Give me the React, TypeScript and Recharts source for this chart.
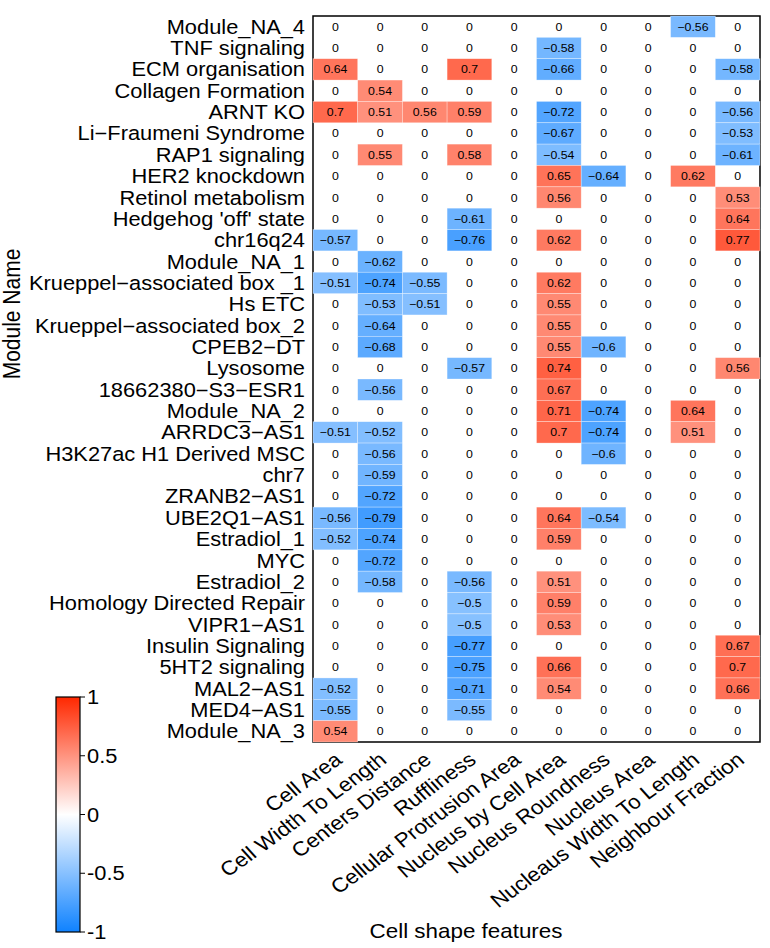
import { ScatterChart, Scatter, XAxis, YAxis, ReferenceArea, Customized } from 'recharts';

// modules (rows, top to bottom) and cell shape features (columns)
const modules = [
  'Module_NA_4',
  'TNF signaling',
  'ECM organisation',
  'Collagen Formation',
  'ARNT KO',
  'Li\u2212Fraumeni Syndrome',
  'RAP1 signaling',
  'HER2 knockdown',
  'Retinol metabolism',
  "Hedgehog 'off' state",
  'chr16q24',
  'Module_NA_1',
  'Krueppel\u2212associated box _1',
  'Hs ETC',
  'Krueppel\u2212associated box_2',
  'CPEB2\u2212DT',
  'Lysosome',
  '18662380\u2212S3\u2212ESR1',
  'Module_NA_2',
  'ARRDC3\u2212AS1',
  'H3K27ac H1 Derived MSC',
  'chr7',
  'ZRANB2\u2212AS1',
  'UBE2Q1\u2212AS1',
  'Estradiol_1',
  'MYC',
  'Estradiol_2',
  'Homology Directed Repair',
  'VIPR1\u2212AS1',
  'Insulin Signaling',
  '5HT2 signaling',
  'MAL2\u2212AS1',
  'MED4\u2212AS1',
  'Module_NA_3',
];

const features = [
  'Cell Area',
  'Cell Width To Length',
  'Centers Distance',
  'Ruffliness',
  'Cellular Protrusion Area',
  'Nucleus by Cell Area',
  'Nucleus Roundness',
  'Nucleus Area',
  'Nucleaus Width To Length',
  'Neighbour Fraction',
];

// one array per feature, values in module order
const cellArea = [0, 0, 0.64, 0, 0.7, 0, 0, 0, 0, 0, -0.57, 0, -0.51, 0, 0, 0, 0, 0, 0, -0.51, 0, 0, 0, -0.56, -0.52, 0, 0, 0, 0, 0, 0, -0.52, -0.55, 0.54];
const cellWidthToLength = [0, 0, 0, 0.54, 0.51, 0, 0.55, 0, 0, 0, 0, -0.62, -0.74, -0.53, -0.64, -0.68, 0, -0.56, 0, -0.52, -0.56, -0.59, -0.72, -0.79, -0.74, -0.72, -0.58, 0, 0, 0, 0, 0, 0, 0];
const centersDistance = [0, 0, 0, 0, 0.56, 0, 0, 0, 0, 0, 0, 0, -0.55, -0.51, 0, 0, 0, 0, 0, 0, 0, 0, 0, 0, 0, 0, 0, 0, 0, 0, 0, 0, 0, 0];
const ruffliness = [0, 0, 0.7, 0, 0.59, 0, 0.58, 0, 0, -0.61, -0.76, 0, 0, 0, 0, 0, -0.57, 0, 0, 0, 0, 0, 0, 0, 0, 0, -0.56, -0.5, -0.5, -0.77, -0.75, -0.71, -0.55, 0];
const cellularProtrusionArea = [0, 0, 0, 0, 0, 0, 0, 0, 0, 0, 0, 0, 0, 0, 0, 0, 0, 0, 0, 0, 0, 0, 0, 0, 0, 0, 0, 0, 0, 0, 0, 0, 0, 0];
const nucleusByCellArea = [0, -0.58, -0.66, 0, -0.72, -0.67, -0.54, 0.65, 0.56, 0, 0.62, 0, 0.62, 0.55, 0.55, 0.55, 0.74, 0.67, 0.71, 0.7, 0, 0, 0, 0.64, 0.59, 0, 0.51, 0.59, 0.53, 0, 0.66, 0.54, 0, 0];
const nucleusRoundness = [0, 0, 0, 0, 0, 0, 0, -0.64, 0, 0, 0, 0, 0, 0, 0, -0.6, 0, 0, -0.74, -0.74, -0.6, 0, 0, -0.54, 0, 0, 0, 0, 0, 0, 0, 0, 0, 0];
const nucleusArea = [0, 0, 0, 0, 0, 0, 0, 0, 0, 0, 0, 0, 0, 0, 0, 0, 0, 0, 0, 0, 0, 0, 0, 0, 0, 0, 0, 0, 0, 0, 0, 0, 0, 0];
const nucleausWidthToLength = [-0.56, 0, 0, 0, 0, 0, 0, 0.62, 0, 0, 0, 0, 0, 0, 0, 0, 0, 0, 0.64, 0.51, 0, 0, 0, 0, 0, 0, 0, 0, 0, 0, 0, 0, 0, 0];
const neighbourFraction = [0, 0, -0.58, 0, -0.56, -0.53, -0.61, 0, 0.53, 0.64, 0.77, 0, 0, 0, 0, 0, 0.56, 0, 0, 0, 0, 0, 0, 0, 0, 0, 0, 0, 0, 0.67, 0.7, 0.66, 0, 0];

const columns = [
  cellArea,
  cellWidthToLength,
  centersDistance,
  ruffliness,
  cellularProtrusionArea,
  nucleusByCellArea,
  nucleusRoundness,
  nucleusArea,
  nucleausWidthToLength,
  neighbourFraction,
];

const colorbarTicks = [1, 0.5, 0, -0.5, -1];

const W = 770;
const H = 948;
const PLOT_LEFT = 313;
const PLOT_RIGHT = 760;
const PLOT_TOP = 16;
const PLOT_BOTTOM = 742;
const Y_AXIS_W = 40;
const X_AXIS_H = 20;
const margin = {
  top: PLOT_TOP,
  right: W - PLOT_RIGHT,
  bottom: H - PLOT_BOTTOM - X_AXIS_H,
  left: PLOT_LEFT - Y_AXIS_W,
};
const cellW = (PLOT_RIGHT - PLOT_LEFT) / features.length;
const cellH = (PLOT_BOTTOM - PLOT_TOP) / modules.length;

const FONT = '"Liberation Sans", Arial, Helvetica, sans-serif';
const SX = 1.12; // the reference text is a bit wide

const RED = [255, 40, 0];
const BLUE = [15, 130, 255];

function fillFor(v: number) {
  if (v === 0) return '#ffffff';
  const t = Math.min(1, Math.abs(v));
  const c = v > 0 ? RED : BLUE;
  const mix = (a: number) => Math.round(255 + (a - 255) * t);
  return `rgb(${mix(c[0])},${mix(c[1])},${mix(c[2])})`;
}

function fmt(v: number) {
  if (v === 0) return '0';
  const s = String(Math.abs(v));
  return v < 0 ? '\u2212' + s : s;
}

const cells: { x: number; y: number; v: number }[] = [];
columns.forEach((col, x) => col.forEach((v, y) => cells.push({ x, y, v })));

function HeatCell(props: any) {
  const { cx, cy, payload } = props;
  const v = payload.v;
  return (
    <g>
      {v !== 0 && (
        <rect
          x={cx - cellW / 2}
          y={cy - cellH / 2}
          width={cellW}
          height={cellH}
          fill={fillFor(v)}
          stroke="#ffffff"
          strokeOpacity={0.5}
          strokeWidth={0.6}
        />
      )}
      <text
        transform={`translate(${cx},${cy + 4}) scale(${SX},1)`}
        textAnchor="middle"
        fontSize={11}
        fontFamily={FONT}
        fill="#000"
      >
        {fmt(v)}
      </text>
    </g>
  );
}

function renderRowTick(props: any) {
  const { y, payload } = props;
  return (
    <text
      key={`r-${payload.value}`}
      transform={`translate(${PLOT_LEFT - 8},${y + 7}) scale(${SX},1)`}
      textAnchor="end"
      fontSize={19.5}
      fontFamily={FONT}
      fill="#000"
    >
      {modules[payload.value]}
    </text>
  );
}

function renderColTick(props: any) {
  const { x, payload } = props;
  return (
    <text
      key={`c-${payload.value}`}
      transform={`translate(${x + 8},${PLOT_BOTTOM + 20}) scale(${SX},1) rotate(-39)`}
      textAnchor="end"
      fontSize={20}
      fontFamily={FONT}
      fill="#000"
    >
      {features[payload.value]}
    </text>
  );
}

function Extras() {
  const x0 = 56;
  const w = 24;
  const y0 = 697;
  const h = 235;
  return (
    <g>
      <defs>
        <linearGradient id="cbar" x1="0" y1="0" x2="0" y2="1">
          <stop offset="0" stopColor={fillFor(1)} />
          <stop offset="0.5" stopColor="#ffffff" />
          <stop offset="1" stopColor={fillFor(-1)} />
        </linearGradient>
      </defs>
      <rect x={x0} y={y0} width={w} height={h} fill="url(#cbar)" stroke="#000" strokeWidth={1.2} />
      {colorbarTicks.map((t) => {
        const ty = y0 + ((1 - t) / 2) * h;
        return (
          <g key={t}>
            <line x1={x0 + w} x2={x0 + w + 5} y1={ty} y2={ty} stroke="#000" strokeWidth={1} />
            <text
              transform={`translate(${x0 + w + 7},${ty + 7}) scale(${SX},1)`}
              fontSize={19.5}
              fontFamily={FONT}
              fill="#000"
            >
              {String(t)}
            </text>
          </g>
        );
      })}
      <text
        transform={`translate(20,314) scale(${SX},1) rotate(-90)`}
        textAnchor="middle"
        fontSize={21}
        fontFamily={FONT}
        fill="#000"
      >
        Module Name
      </text>
      <text
        transform={`translate(466,938) scale(${SX},1)`}
        textAnchor="middle"
        fontSize={20}
        fontFamily={FONT}
        fill="#000"
      >
        Cell shape features
      </text>
    </g>
  );
}

export default function App() {
  return (
    <div style={{ width: W, height: H, background: '#fff' }}>
      <style>{'body{margin:0}'}</style>
      <ScatterChart width={W} height={H} margin={margin}>
        <XAxis
          type="number"
          dataKey="x"
          domain={[-0.5, features.length - 0.5]}
          ticks={features.map((_, i) => i)}
          interval={0}
          height={X_AXIS_H}
          axisLine={false}
          tickLine={false}
          tick={renderColTick}
        />
        <YAxis
          type="number"
          dataKey="y"
          domain={[-0.5, modules.length - 0.5]}
          ticks={modules.map((_, i) => i)}
          interval={0}
          reversed
          width={Y_AXIS_W}
          axisLine={false}
          tickLine={false}
          tick={renderRowTick}
        />
        <Scatter data={cells} shape={<HeatCell />} isAnimationActive={false} />
        <ReferenceArea
          x1={-0.5}
          x2={features.length - 0.5}
          y1={-0.5}
          y2={modules.length - 0.5}
          fill="none"
          stroke="#000"
          strokeWidth={1.5}
          ifOverflow="visible"
        />
        <Customized component={<Extras />} />
      </ScatterChart>
    </div>
  );
}
